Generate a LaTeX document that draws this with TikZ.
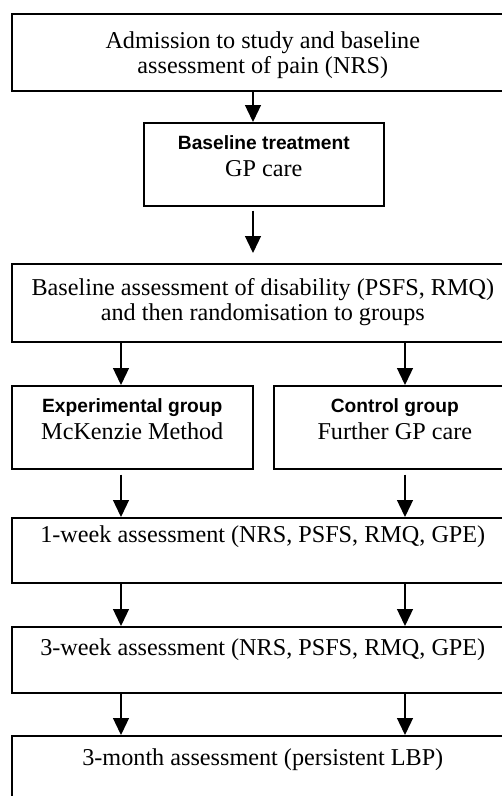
\documentclass[tikz,border=0pt]{standalone}
\usepackage{fontspec}
\setmainfont{Liberation Serif}
\setsansfont{Liberation Sans}
\usetikzlibrary{arrows.meta}
\newcommand\fbx[4]{\parbox[c][#2][t]{#1}{\centering\fontsize{24.2}{24.5}\selectfont\vspace*{\dimexpr#3-20pt\relax}\rule{0pt}{20pt}#4}}
\newcommand\hd[1]{{\sffamily\bfseries\fontsize{19.2}{24.5}\selectfont #1}}
\begin{document}
\begin{tikzpicture}[x=1pt,y=-1pt,
  bx/.style={draw, line width=1.6pt, inner sep=0pt, anchor=north west},
  arr/.style={-{Triangle[width=16pt,length=17pt]}, line width=1.3pt}]
\useasboundingbox (0,0) rectangle (502,796);
\clip (0,0) rectangle (502,796);
\node[bx] (admit) at (11,13) {\fbx{502pt}{77pt}{35pt}{Admission to study and baseline\\assessment of pain (NRS)}};
\node[bx] (treat) at (143,122) {\fbx{240pt}{83pt}{27pt}{\hd{Baseline treatment}\\[2.5pt]GP care}};
\node[bx] (rand) at (11,263) {\fbx{502pt}{78pt}{32pt}{Baseline assessment of disability (PSFS, RMQ)\\and then randomisation to groups}};
\node[bx] (exp) at (11,385) {\fbx{241pt}{83pt}{27pt}{\hd{Experimental group}\\[2.5pt]McKenzie Method}};
\node[bx] (ctrl) at (273,385) {\fbx{242pt}{83pt}{27pt}{\hd{Control group}\\[2.5pt]Further GP care}};
\node[bx] (wk1) at (11,517) {\fbx{502pt}{65pt}{24.5pt}{1-week assessment (NRS, PSFS, RMQ, GPE)}};
\node[bx] (wk3) at (11,626) {\fbx{502pt}{66pt}{29pt}{3-week assessment (NRS, PSFS, RMQ, GPE)}};
\node[bx] (mo3) at (11,735) {\fbx{502pt}{90pt}{30pt}{3-month assessment (persistent LBP)}};
\coordinate (C) at (253,0);
\coordinate (L) at (121,0);
\coordinate (R) at (405,0);
\draw[arr] (admit.south -| C) -- (treat.north -| C);
\draw[arr, shorten <=4pt, shorten >=10pt] (treat.south -| C) -- (rand.north -| C);
\draw[arr] (rand.south -| L) -- (exp.north -| L);
\draw[arr] (rand.south -| R) -- (ctrl.north -| R);
\draw[arr, shorten <=5pt] (exp.south -| L) -- (wk1.north -| L);
\draw[arr, shorten <=5pt] (ctrl.south -| R) -- (wk1.north -| R);
\draw[arr] (wk1.south -| L) -- (wk3.north -| L);
\draw[arr] (wk1.south -| R) -- (wk3.north -| R);
\draw[arr] (wk3.south -| L) -- (mo3.north -| L);
\draw[arr] (wk3.south -| R) -- (mo3.north -| R);
\end{tikzpicture}
\end{document}
